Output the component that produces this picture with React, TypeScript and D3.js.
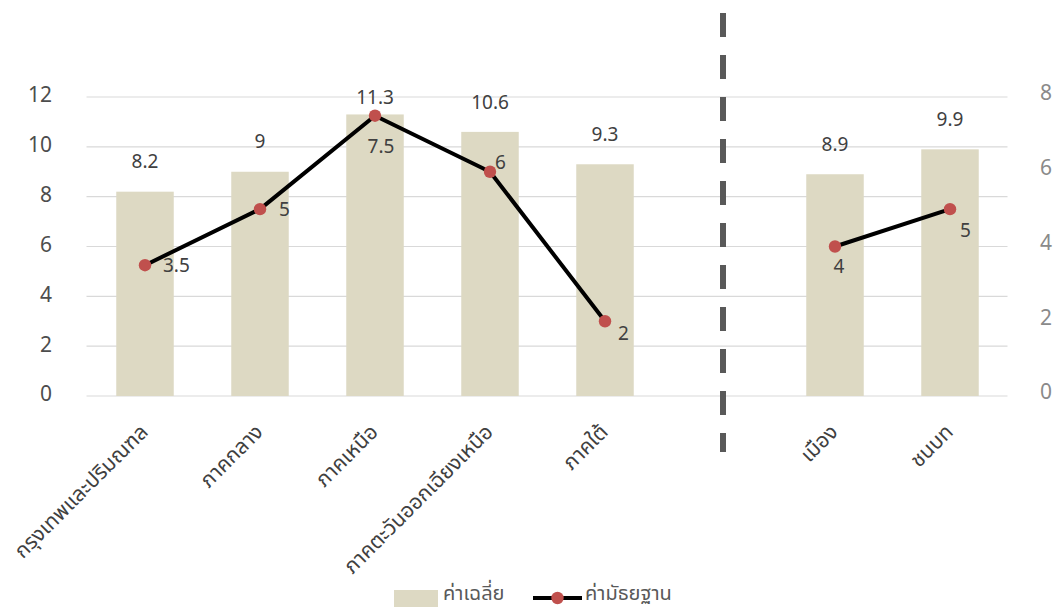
import React from "react";
import * as d3 from "d3";

// Regions (the empty slot separates regions from urban/rural)
const categories = [
  "กรุงเทพและปริมณฑล",
  "ภาคกลาง",
  "ภาคเหนือ",
  "ภาคตะวันออกเฉียงเหนือ",
  "ภาคใต้",
  "",
  "เมือง",
  "ชนบท",
];
const meanValues: (number | null)[] = [8.2, 9, 11.3, 10.6, 9.3, null, 8.9, 9.9];
const medianValues: (number | null)[] = [3.5, 5, 7.5, 6, 2, null, 4, 5];
const leftTicks = [0, 2, 4, 6, 8, 10, 12];
const rightTicks = [0, 2, 4, 6, 8];
const legendLabels = ["ค่าเฉลี่ย", "ค่ามัธยฐาน"];

// Where each median label sits relative to its marker
const medianLabelPlacement: { dx: number; dy: number; anchor: string }[] = [
  { dx: 18, dy: 0, anchor: "start" },
  { dx: 19, dy: 0, anchor: "start" },
  { dx: 6, dy: 31, anchor: "middle" },
  { dx: 5, dy: -9, anchor: "start" },
  { dx: 13, dy: 12, anchor: "start" },
  { dx: 0, dy: 0, anchor: "start" },
  { dx: 4, dy: 20, anchor: "middle" },
  { dx: 10, dy: 21, anchor: "start" },
];

const W = 1062;
const H = 610;
const FONT = "'Noto Sans Thai', 'Leelawadee UI', Tahoma, 'Noto Sans', 'DejaVu Sans', sans-serif";

export default function App() {
  const plotLeft = 87.5;
  const plotRight = 1007.5;
  const yBottom = 396;
  const yTop = 97;

  const x = d3
    .scaleBand<number>()
    .domain(categories.map((_, i) => i))
    .range([plotLeft, plotRight])
    .paddingInner(0.5)
    .paddingOuter(0.25);
  const bw = x.bandwidth();
  const cx = (i: number) => (x(i) as number) + bw / 2;

  const yL = d3.scaleLinear().domain([0, 12]).range([yBottom, yTop]);
  const yR = d3.scaleLinear().domain([0, 8]).range([yBottom, yTop]);

  const line = d3
    .line<number | null>()
    .defined((d) => d !== null)
    .x((_, i) => cx(i))
    .y((d) => yR(d as number));

  const sepX = cx(5) + 3;

  return (
    <svg
      width={W}
      height={H}
      style={{ position: "absolute", left: 0, top: 0, fontFamily: FONT }}
    >
      <rect width={W} height={H} fill="#ffffff" />

      {/* gridlines */}
      {leftTicks.map((t) => (
        <line
          key={t}
          x1={plotLeft - 1}
          x2={plotRight}
          y1={yL(t)}
          y2={yL(t)}
          stroke="#d9d9d9"
          strokeWidth={1.2}
        />
      ))}

      {/* left axis labels */}
      {leftTicks.map((t) => (
        <text
          key={t}
          x={52}
          y={yL(t) - 2}
          dy="0.35em"
          textAnchor="end"
          fontSize={21}
          fill="#4d4d4d"
        >
          {t}
        </text>
      ))}

      {/* right axis labels */}
      {rightTicks.map((t) => (
        <text
          key={t}
          x={1040}
          y={yR(t) - 4}
          dy="0.35em"
          textAnchor="start"
          fontSize={21}
          fill="#8a8a8a"
        >
          {t}
        </text>
      ))}

      {/* bars */}
      {meanValues.map((v, i) =>
        v === null ? null : (
          <rect
            key={i}
            x={x(i)}
            y={yL(v)}
            width={bw}
            height={yL(0) - yL(v)}
            fill="#ddd9c3"
          />
        )
      )}

      {/* bar labels */}
      {meanValues.map((v, i) =>
        v === null ? null : (
          <text
            key={i}
            x={cx(i)}
            y={Math.max(yL(v) - 30, yTop)}
            dy="0.35em"
            textAnchor="middle"
            fontSize={19}
            fill="#404040"
          >
            {v}
          </text>
        )
      )}

      {/* separator */}
      <line
        x1={sepX}
        x2={sepX}
        y1={13}
        y2={452}
        stroke="#595959"
        strokeWidth={6}
        strokeDasharray="24 18"
      />

      {/* median line */}
      <path
        d={line(medianValues) || ""}
        fill="none"
        stroke="#000000"
        strokeWidth={4}
        strokeLinejoin="round"
      />
      {medianValues.map((v, i) =>
        v === null ? null : (
          <circle key={i} cx={cx(i)} cy={yR(v)} r={6.2} fill="#c0504d" />
        )
      )}
      {medianValues.map((v, i) =>
        v === null ? null : (
          <text
            key={i}
            x={cx(i) + medianLabelPlacement[i].dx}
            y={yR(v) + medianLabelPlacement[i].dy}
            dy="0.35em"
            textAnchor={medianLabelPlacement[i].anchor}
            fontSize={19}
            fill="#404040"
          >
            {v}
          </text>
        )
      )}

      {/* category labels */}
      {categories.map((c, i) =>
        c === "" ? null : (
          <text
            key={i}
            transform={`translate(${cx(i) - 1},${yBottom + 32}) rotate(-45)`}
            dy="0.35em"
            textAnchor="end"
            fontSize={21}
            fill="#404040"
          >
            {c}
          </text>
        )
      )}

      {/* legend */}
      <rect x={394} y={590} width={44} height={17} fill="#ddd9c3" />
      <text x={443} y={600} fontSize={20} fill="#595959">
        {legendLabels[0]}
      </text>
      <line x1={533} x2={582} y1={598} y2={598} stroke="#000" strokeWidth={4} />
      <circle cx={557.5} cy={598} r={6.2} fill="#c0504d" />
      <text x={585} y={600} fontSize={20} fill="#595959">
        {legendLabels[1]}
      </text>
    </svg>
  );
}
